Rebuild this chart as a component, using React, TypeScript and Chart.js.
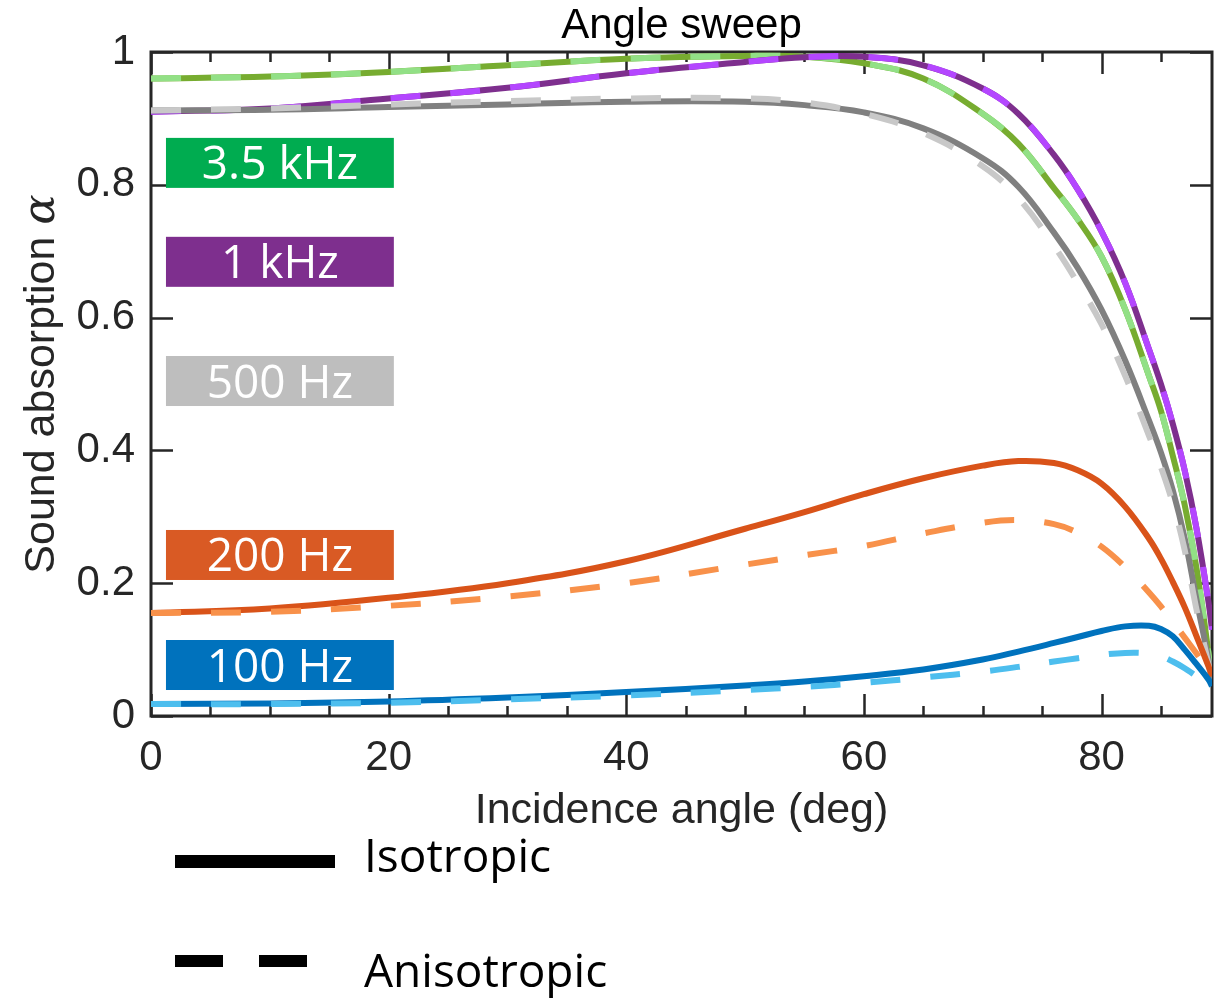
import React, { useEffect, useRef } from 'react';
import { Chart, registerables } from 'chart.js';

Chart.register(...registerables);

// ---- data ----
const angles = [0, 10, 20, 30, 40, 50, 55, 60, 65, 70, 73, 76, 78, 80, 82, 84, 85, 86, 87, 88, 89, 89.3];

const iso100 = [0.018, 0.019, 0.022, 0.028, 0.036, 0.046, 0.052, 0.06, 0.07, 0.085, 0.097, 0.11, 0.119, 0.128, 0.135, 0.136, 0.131, 0.12, 0.1, 0.078, 0.055, 0.045];
const aniso100 = [0.018, 0.018, 0.02, 0.025, 0.031, 0.039, 0.044, 0.05, 0.058, 0.067, 0.074, 0.082, 0.087, 0.092, 0.095, 0.094, 0.09, 0.082, 0.072, 0.06, 0.05, 0.045];

const iso200 = [0.155, 0.162, 0.178, 0.2, 0.233, 0.282, 0.307, 0.334, 0.358, 0.377, 0.384, 0.381, 0.37, 0.35, 0.315, 0.267, 0.237, 0.202, 0.164, 0.12, 0.075, 0.06];
const aniso200 = [0.155, 0.157, 0.166, 0.18, 0.2, 0.228, 0.242, 0.256, 0.275, 0.291, 0.295, 0.289, 0.276, 0.255, 0.224, 0.186, 0.165, 0.142, 0.118, 0.094, 0.068, 0.06];

const iso500 = [0.912, 0.913, 0.917, 0.921, 0.925, 0.925, 0.92, 0.909, 0.885, 0.84, 0.797, 0.728, 0.675, 0.612, 0.535, 0.445, 0.397, 0.34, 0.268, 0.175, 0.085, 0.05];
const aniso500 = [0.912, 0.915, 0.921, 0.926, 0.93, 0.93, 0.924, 0.907, 0.878, 0.828, 0.78, 0.708, 0.652, 0.59, 0.512, 0.422, 0.375, 0.32, 0.25, 0.16, 0.078, 0.05];

const iso1k = [0.91, 0.915, 0.93, 0.946, 0.968, 0.985, 0.992, 0.993, 0.98, 0.945, 0.907, 0.845, 0.793, 0.73, 0.652, 0.552, 0.5, 0.44, 0.37, 0.282, 0.172, 0.13];
const aniso1k = [0.91, 0.915, 0.93, 0.946, 0.968, 0.985, 0.992, 0.993, 0.98, 0.945, 0.907, 0.845, 0.793, 0.73, 0.652, 0.552, 0.5, 0.44, 0.37, 0.282, 0.172, 0.13];

const iso3k5 = [0.96, 0.963, 0.97, 0.98, 0.99, 0.994, 0.993, 0.983, 0.96, 0.907, 0.862, 0.795, 0.748, 0.692, 0.612, 0.512, 0.46, 0.392, 0.318, 0.222, 0.095, 0.047];
const aniso3k5 = [0.96, 0.963, 0.97, 0.98, 0.99, 0.994, 0.993, 0.983, 0.96, 0.907, 0.862, 0.795, 0.748, 0.692, 0.612, 0.512, 0.46, 0.392, 0.318, 0.222, 0.095, 0.047];

const freqLabels = ['100 Hz', '200 Hz', '500 Hz', '1 kHz', '3.5 kHz'];
const isoSeries = [iso100, iso200, iso500, iso1k, iso3k5];
const anisoSeries = [aniso100, aniso200, aniso500, aniso1k, aniso3k5];
// vertical centre (in alpha units) of each frequency label box
const labelBoxCentres = [0.0768, 0.2425, 0.5045, 0.684, 0.833];

const xTickValues = [0, 20, 40, 60, 80];
const yTickValues = [0, 0.2, 0.4, 0.6, 0.8, 1];

// ---- styles ----
const isoColors = ['#0072BD', '#D95319', '#808080', '#7E2F8E', '#77AC30'];
const anisoColors = ['#4DBEEE', '#F8914A', '#C8C8C8', '#B446FF', '#92E086'];
const boxColors = ['#0072BD', '#D95A24', '#BEBEBE', '#7E2F8E', '#00AC50'];

const AXIS = '#262626';

function pts(vals: number[]) {
  return angles.map((a, i) => ({ x: a, y: vals[i] }));
}

const decorPlugin = {
  id: 'decor',
  beforeDatasetsDraw(chart: any) {
    const { ctx, chartArea: a, scales } = chart;
    const xs = scales.x;
    const ys = scales.y;
    ctx.save();
    ctx.strokeStyle = AXIS;
    ctx.lineWidth = 2.5;
    ctx.lineCap = 'butt';
    // x ticks (minor every 5, major every 20), inward, top and bottom
    for (let v = 0; v <= 85; v += 5) {
      const px = Math.round(xs.getPixelForValue(v)) + 0.5;
      const len = v % 20 === 0 ? 22 : 10;
      ctx.beginPath();
      ctx.moveTo(px, a.bottom);
      ctx.lineTo(px, a.bottom - len);
      ctx.moveTo(px, a.top);
      ctx.lineTo(px, a.top + len);
      ctx.stroke();
    }
    yTickValues.forEach((v) => {
      const py = Math.round(ys.getPixelForValue(v)) + 0.5;
      ctx.beginPath();
      ctx.moveTo(a.left, py);
      ctx.lineTo(a.left + 22, py);
      ctx.moveTo(a.right, py);
      ctx.lineTo(a.right - 22, py);
      ctx.stroke();
    });
    ctx.lineWidth = 3;
    ctx.strokeRect(a.left, a.top, a.right - a.left, a.bottom - a.top);
    ctx.restore();
  },
  afterDraw(chart: any) {
    const { ctx, chartArea: a, scales } = chart;
    const xs = scales.x;
    const ys = scales.y;
    ctx.save();

    // frequency label boxes
    const bx0 = xs.getPixelForValue(1.26);
    const bx1 = xs.getPixelForValue(20.44);
    freqLabels.forEach((lab, i) => {
      const cy = ys.getPixelForValue(labelBoxCentres[i]);
      ctx.fillStyle = boxColors[i];
      ctx.fillRect(bx0, cy - 25, bx1 - bx0, 50);
      ctx.fillStyle = '#ffffff';
      ctx.font = '46px "Open Sans"';
      ctx.textAlign = 'center';
      ctx.textBaseline = 'alphabetic';
      ctx.fillText(lab, (bx0 + bx1) / 2, cy + 16.5);
    });

    // title
    const cx = (a.left + a.right) / 2;
    ctx.fillStyle = '#000000';
    ctx.font = '42px "Liberation Sans"';
    ctx.textAlign = 'center';
    ctx.textBaseline = 'alphabetic';
    ctx.fillText('Angle sweep', cx, 38);

    // x axis title
    ctx.fillStyle = AXIS;
    ctx.font = '43px "Liberation Sans"';
    ctx.fillText('Incidence angle (deg)', cx, 823);

    // y axis title (rotated)
    ctx.save();
    ctx.translate(54, (a.top + a.bottom) / 2);
    ctx.rotate(-Math.PI / 2);
    const t1 = 'Sound absorption ';
    ctx.font = '43px "Liberation Sans"';
    const w1 = ctx.measureText(t1).width;
    ctx.font = 'italic 45px "DejaVu Serif"';
    const w2 = ctx.measureText('α').width;
    const start = -(w1 + w2) / 2;
    ctx.textAlign = 'left';
    ctx.font = '43px "Liberation Sans"';
    ctx.fillText(t1, start, 0);
    ctx.font = 'italic 45px "DejaVu Serif"';
    ctx.fillText('α', start + w1, 0);
    ctx.restore();

    // style legend
    ctx.fillStyle = '#000000';
    ctx.fillRect(175, 855, 160, 13);
    ctx.fillRect(175, 955, 48, 12);
    ctx.fillRect(259, 955, 48, 12);
    ctx.font = '46px "Open Sans"';
    ctx.textAlign = 'left';
    ctx.fillText('Isotropic', 364, 872);
    ctx.fillText('Anisotropic', 364, 987);

    ctx.restore();
  },
};

export default function App() {
  const ref = useRef<HTMLCanvasElement | null>(null);

  useEffect(() => {
    document.body.style.margin = '0';
    const canvas = ref.current;
    if (!canvas) return;

    const datasets: any[] = [];
    freqLabels.forEach((lab, i) => {
      datasets.push({
        label: lab + ' isotropic',
        data: pts(isoSeries[i]),
        borderColor: isoColors[i],
        borderWidth: 6,
        pointRadius: 0,
        fill: false,
        tension: 0.4,
        borderCapStyle: 'butt',
        order: 2 * i + 1,
      });
      datasets.push({
        label: lab + ' anisotropic',
        data: pts(anisoSeries[i]),
        borderColor: anisoColors[i],
        borderWidth: 6,
        borderDash: [30, 30],
        pointRadius: 0,
        fill: false,
        tension: 0.4,
        borderCapStyle: 'butt',
        order: 2 * i,
      });
    });

    const chart = new Chart(canvas, {
      type: 'line',
      data: { datasets },
      options: {
        animation: false,
        responsive: false,
        devicePixelRatio: 1,
        layout: { padding: { top: 52, right: 9, left: 0, bottom: 0 } },
        plugins: {
          legend: { display: false },
          tooltip: { enabled: false },
          title: { display: false },
        },
        scales: {
          x: {
            type: 'linear',
            min: 0,
            max: 89.3,
            afterFit: (s: any) => {
              s.height = 282;
            },
            afterBuildTicks: (s: any) => {
              s.ticks = xTickValues.map((v) => ({ value: v }));
            },
            grid: { display: false, drawTicks: false },
            border: { display: false },
            ticks: {
              color: AXIS,
              font: { family: 'Liberation Sans', size: 42 },
              padding: 17,
              maxRotation: 0,
              autoSkip: false,
            },
          },
          y: {
            type: 'linear',
            min: 0,
            max: 1,
            afterFit: (s: any) => {
              s.width = 151;
            },
            afterBuildTicks: (s: any) => {
              s.ticks = yTickValues.map((v) => ({ value: v }));
            },
            grid: { display: false, drawTicks: false },
            border: { display: false },
            ticks: {
              color: AXIS,
              font: { family: 'Liberation Sans', size: 42 },
              padding: 16,
              autoSkip: false,
              callback: (v: any) => String(Number(Number(v).toFixed(1))),
            },
          },
        },
      },
      plugins: [decorPlugin],
    });

    return () => chart.destroy();
  }, []);

  return (
    <div style={{ width: 1221, height: 998 }}>
      <canvas ref={ref} width={1221} height={998} style={{ display: 'block' }} />
    </div>
  );
}
